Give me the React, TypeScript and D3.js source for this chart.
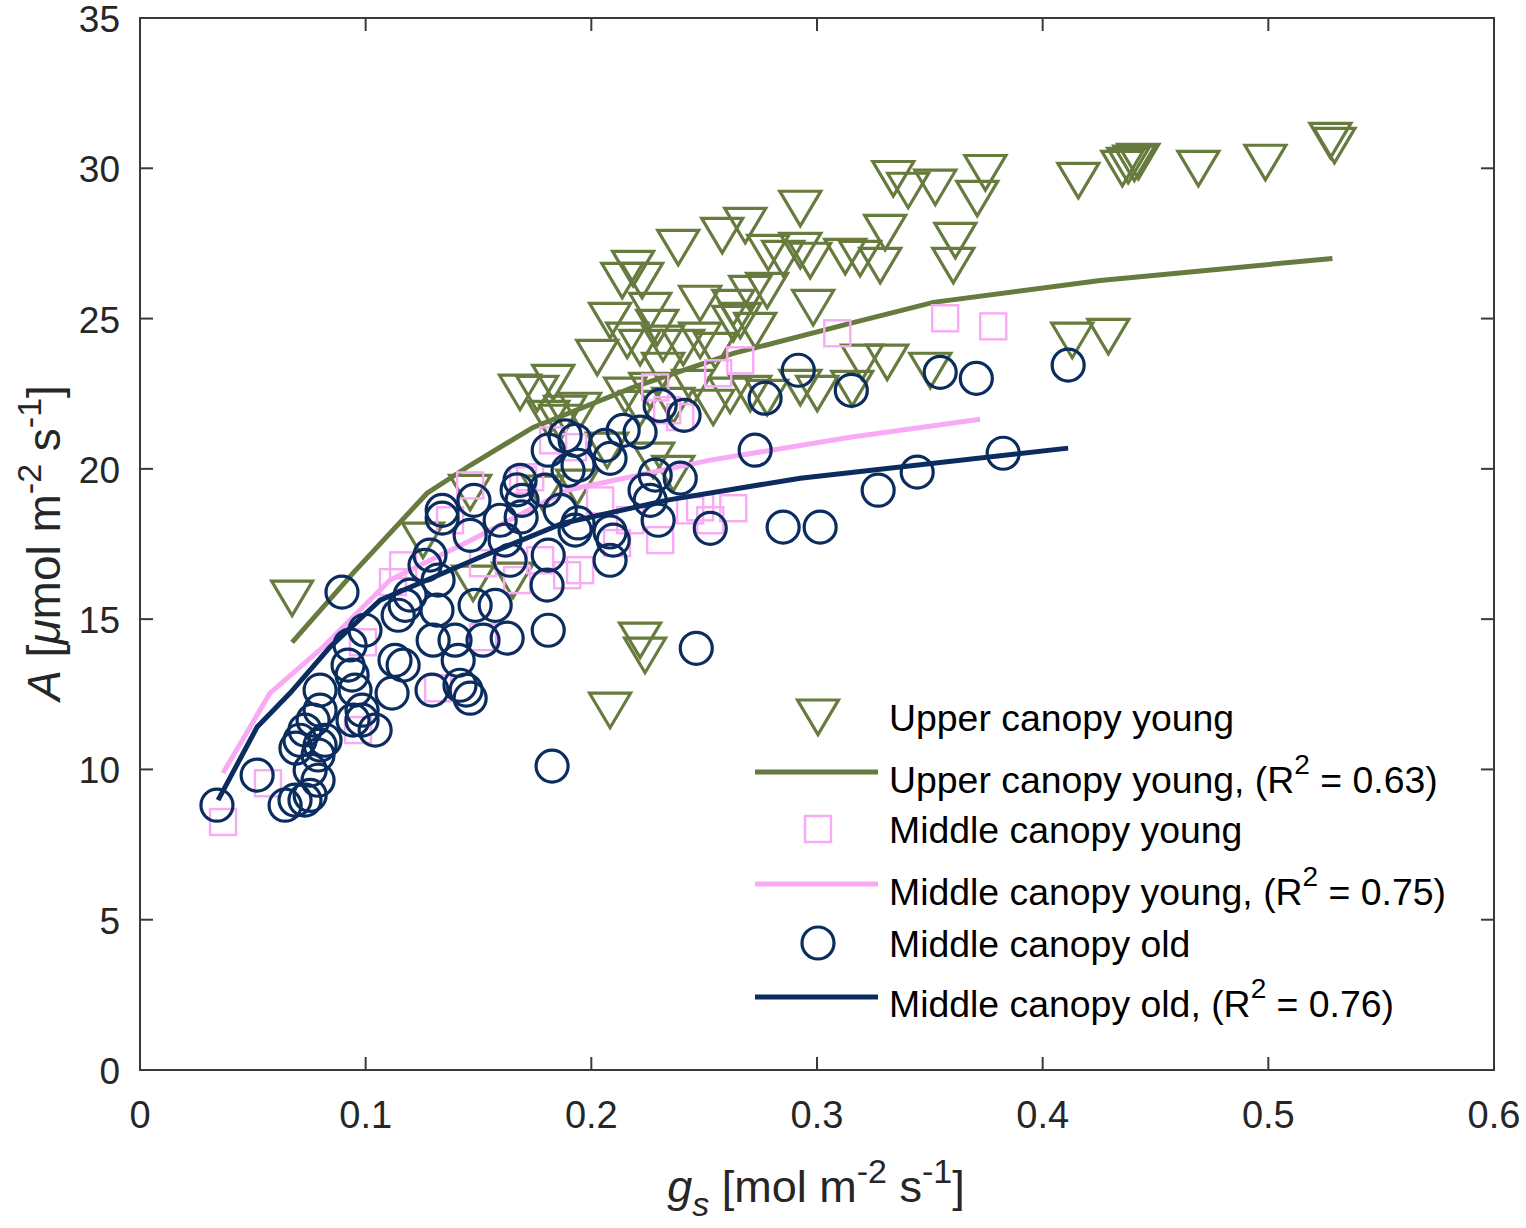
import React from 'react';
import * as d3 from 'd3';

// g_s [mol m-2 s-1], A [umol m-2 s-1]
const upperYoungGs = [
  0.5275, 0.5293, 0.4987, 0.469, 0.4353, 0.4379, 0.4406, 0.4424, 0.4158, 0.3746,
  0.371, 0.3338, 0.3404, 0.3524, 0.3302, 0.3613, 0.3604, 0.328, 0.3125, 0.3191,
  0.2926, 0.2926, 0.297, 0.2784, 0.285, 0.2682, 0.258, 0.2385, 0.2185, 0.2225,
  0.2137, 0.2482, 0.2704, 0.2629, 0.2629, 0.2779, 0.2983, 0.2261, 0.2292, 0.2216,
  0.2318, 0.2407, 0.2026, 0.2451, 0.254, 0.2704, 0.2779, 0.2926, 0.3001, 0.3156,
  0.32, 0.3311, 0.3502, 0.4131, 0.4291, 0.1684, 0.176, 0.1831, 0.1884, 0.195,
  0.1809, 0.1862, 0.207, 0.2274, 0.2363, 0.1937, 0.1786, 0.1463, 0.1254, 0.1476,
  0.1653, 0.2216, 0.2238, 0.2083, 0.0674, 0.2159, 0.2083, 0.2482, 0.2549, 0.266,
  0.2726, 0.215, 0.2261, 0.2363, 0.2216, 0.2615, 0.2318,
];
const upperYoungA = [
  30.93, 30.76, 30.2, 30.0, 30.0, 30.1, 30.17, 30.23, 29.6, 29.86,
  29.0, 29.66, 29.27, 29.37, 27.87, 27.6, 26.77, 26.77, 27.07, 27.0,
  28.67, 27.27, 26.94, 27.2, 27.0, 28.1, 27.77, 27.37, 26.67, 26.27,
  26.27, 25.51, 25.84, 25.37, 24.84, 25.94, 25.37, 25.27, 24.71, 24.04,
  24.18, 24.04, 23.71, 22.71, 22.05, 22.51, 22.38, 22.71, 22.51, 22.68,
  23.55, 23.55, 23.28, 24.28, 24.41, 22.55, 22.51, 22.88, 21.85, 21.95,
  21.68, 21.55, 20.62, 20.29, 19.85, 19.39, 19.19, 19.22, 17.63, 16.2,
  16.3, 14.3, 13.8, 11.97, 15.7, 24.28, 24.94, 24.28, 23.94, 24.94,
  24.61, 22.45, 22.61, 22.11, 22.01, 22.45, 23.28,
];

const middleYoungGs = [
  0.0368, 0.0567, 0.0966, 0.1321, 0.152, 0.0988, 0.1121, 0.152, 0.1463, 0.1698,
  0.1831, 0.1919, 0.2336, 0.2394, 0.2172, 0.2305, 0.2438, 0.195, 0.1671, 0.1773,
  0.266, 0.2562, 0.309, 0.2283, 0.2482, 0.2629, 0.2114, 0.3568, 0.3781, 0.1893,
  0.1729, 0.1166, 0.1374, 0.2039, 0.2527,
];
const middleYoungA = [
  8.25, 9.54, 11.31, 12.7, 14.4, 14.23, 16.23, 16.86, 19.45, 19.62,
  20.95, 20.72, 21.95, 21.72, 18.29, 17.63, 18.62, 16.63, 16.3, 16.96,
  23.61, 23.18, 24.51, 22.71, 18.72, 18.69, 17.53, 25.01, 24.74, 16.46,
  19.72, 16.79, 18.29, 18.95, 18.29,
];

const middleOldGs = [
  0.0341, 0.0519, 0.0643, 0.0687, 0.0731, 0.0895, 0.1826, 0.2465, 0.1809, 0.2527,
  0.2726, 0.285, 0.3014, 0.277, 0.2917, 0.3152, 0.3271, 0.3444, 0.3546, 0.3706,
  0.3825, 0.4113, 0.2411, 0.2305, 0.2283, 0.2261, 0.2296, 0.2238, 0.2083, 0.2097,
  0.2141, 0.2216, 0.2061, 0.2083, 0.1928, 0.1941, 0.1897, 0.1809, 0.1795, 0.1862,
  0.1928, 0.1809, 0.1804, 0.1684, 0.1693, 0.1596, 0.1618, 0.164, 0.1574, 0.1627,
  0.152, 0.1485, 0.1445, 0.1463, 0.1418, 0.141, 0.1396, 0.1463, 0.148, 0.1339,
  0.1339, 0.1321, 0.1316, 0.1299, 0.1285, 0.1263, 0.1294, 0.1197, 0.1175, 0.1144,
  0.113, 0.1166, 0.1117, 0.1042, 0.0984, 0.0997, 0.0931, 0.0922, 0.094, 0.0953,
  0.0944, 0.0984, 0.0798, 0.0798, 0.0767, 0.0731, 0.0709, 0.0691, 0.0798, 0.082,
  0.0789, 0.0754, 0.0789, 0.0754, 0.2394, 0.1884, 0.1941, 0.1671, 0.1689, 0.2083,
];
const middleOldA = [
  8.81, 9.81, 8.81, 8.98, 8.98, 15.9, 10.11, 14.03, 14.63, 18.02,
  20.62, 18.06, 18.06, 22.35, 23.28, 22.61, 19.29, 19.89, 23.21, 23.01,
  20.52, 23.45, 21.78, 22.11, 19.79, 18.95, 18.29, 19.29, 16.96, 17.63,
  21.28, 21.22, 20.78, 20.35, 20.95, 20.12, 19.95, 20.62, 19.29, 18.62,
  17.96, 17.13, 16.13, 19.62, 18.95, 18.29, 17.63, 16.96, 15.46, 14.37,
  14.3, 15.46, 12.64, 12.37, 12.8, 13.63, 14.3, 17.79, 18.95, 18.62,
  18.36, 16.3, 15.3, 14.3, 17.13, 16.79, 12.64, 15.8, 15.46, 15.13,
  13.63, 13.47, 12.54, 11.31, 11.97, 14.63, 14.14, 13.47, 13.14, 12.64,
  11.64, 11.64, 12.64, 11.97, 11.64, 11.31, 10.97, 10.71, 10.81, 10.97,
  10.48, 9.98, 9.64, 9.14, 19.69, 21.1, 18.2, 19.3, 18.4, 17.9,
];

// fitted curves
const upperFitGs = [0.0674, 0.0944, 0.1272, 0.1463, 0.1742, 0.2185, 0.2629, 0.3147, 0.3515, 0.4255, 0.5284];
const upperFitA = [14.23, 16.53, 19.19, 20.12, 21.38, 22.71, 23.84, 24.84, 25.54, 26.27, 27.0];
const middleYoungFitGs = [0.0368, 0.0576, 0.0811, 0.1108, 0.146, 0.1893, 0.2527, 0.3147, 0.3723];
const middleYoungFitA = [9.88, 12.54, 14.07, 16.3, 17.6, 19.29, 20.29, 21.05, 21.65];
const middleOldFitGs = [0.0346, 0.0519, 0.0665, 0.0842, 0.1064, 0.1507, 0.1875, 0.2336, 0.2926, 0.4113];
const middleOldFitA = [8.98, 11.41, 12.54, 14.07, 15.63, 17.06, 18.19, 18.96, 19.69, 20.69];

const xTicks = [0, 0.1, 0.2, 0.3, 0.4, 0.5, 0.6];
const yTicks = [0, 5, 10, 15, 20, 25, 30, 35];

const GREEN = '#677b3f';
const PINK = '#f9aaf4';
const NAVY = '#0b2c5e';
const AXIS = '#3a3a3a';
const FONT = '"Liberation Sans", Arial, Helvetica, sans-serif';

const zip = (xs: number[], ys: number[]) => xs.map((x, i) => [x, ys[i]] as [number, number]);

function Triangle({ x, y }: { x: number; y: number }) {
  return <path d={`M${x - 20.5},${y - 17}L${x + 20.5},${y - 17}L${x},${y + 17.5}Z`} fill="none" stroke={GREEN} strokeWidth={3.2} />;
}
function Square({ x, y }: { x: number; y: number }) {
  return <rect x={x - 13} y={y - 13} width={26} height={26} fill="none" stroke={PINK} strokeWidth={2.4} />;
}
function Circle({ x, y }: { x: number; y: number }) {
  return <circle cx={x} cy={y} r={16} fill="none" stroke={NAVY} strokeWidth={3.2} />;
}

export default function App() {
  const width = 1526;
  const height = 1228;
  const left = 140, right = 1494, top = 18, bottom = 1070;

  const x = d3.scaleLinear().domain([0, 0.6]).range([left, right]);
  const y = d3.scaleLinear().domain([0, 35]).range([bottom, top]);
  const line = d3.line<[number, number]>().x(d => x(d[0])).y(d => y(d[1])).curve(d3.curveLinear);

  const upperPts = zip(upperYoungGs, upperYoungA);
  const youngPts = zip(middleYoungGs, middleYoungA);
  const oldPts = zip(middleOldGs, middleOldA);

  const tickLen = 13;
  const legX = 818;
  const legText = 889;
  const fs = 37.4;

  return (
    <svg width={width} height={height} style={{ position: 'absolute', left: 0, top: 0, background: '#fff' }} fontFamily={FONT}>
      <rect x={0} y={0} width={width} height={height} fill="#fff" />

      {/* data */}
      <g>
        {upperPts.map((d, i) => <Triangle key={`t${i}`} x={x(d[0])} y={y(d[1])} />)}
      </g>
      <path d={line(zip(upperFitGs, upperFitA)) || ''} fill="none" stroke={GREEN} strokeWidth={5} />
      <g>
        {youngPts.map((d, i) => <Square key={`s${i}`} x={x(d[0])} y={y(d[1])} />)}
      </g>
      <path d={line(zip(middleYoungFitGs, middleYoungFitA)) || ''} fill="none" stroke={PINK} strokeWidth={5} />
      <g>
        {oldPts.map((d, i) => <Circle key={`c${i}`} x={x(d[0])} y={y(d[1])} />)}
      </g>
      <path d={line(zip(middleOldFitGs, middleOldFitA)) || ''} fill="none" stroke={NAVY} strokeWidth={5} />

      {/* axes box */}
      <rect x={left} y={top} width={right - left} height={bottom - top} fill="none" stroke={AXIS} strokeWidth={2} />
      {xTicks.map(t => (
        <g key={`xt${t}`}>
          <line x1={x(t)} x2={x(t)} y1={bottom} y2={bottom - tickLen} stroke={AXIS} strokeWidth={2} />
          <line x1={x(t)} x2={x(t)} y1={top} y2={top + tickLen} stroke={AXIS} strokeWidth={2} />
          <text x={x(t)} y={bottom + 58} textAnchor="middle" fontSize={38} fill="#262626">{t === 0 ? '0' : t.toString()}</text>
        </g>
      ))}
      {yTicks.map(t => (
        <g key={`yt${t}`}>
          <line x1={left} x2={left + tickLen} y1={y(t)} y2={y(t)} stroke={AXIS} strokeWidth={2} />
          <line x1={right} x2={right - tickLen} y1={y(t)} y2={y(t)} stroke={AXIS} strokeWidth={2} />
          <text x={left - 20} y={y(t) + 14} textAnchor="end" fontSize={37} fill="#262626">{t}</text>
        </g>
      ))}

      {/* axis labels */}
      <text x={816} y={1202} textAnchor="middle" fontSize={45} fill="#262626">
        <tspan fontStyle="italic">g</tspan>
        <tspan fontSize={34} fontStyle="italic" dy={14}>s</tspan>
        <tspan dy={-14}> [mol m</tspan>
        <tspan fontSize={34} dy={-19}>-2</tspan>
        <tspan dy={19}> s</tspan>
        <tspan fontSize={34} dy={-19}>-1</tspan>
        <tspan dy={19}>]</tspan>
      </text>
      <text transform="translate(60,543) rotate(-90)" textAnchor="middle" fontSize={46} fill="#262626">
        <tspan fontStyle="italic">A</tspan>
        <tspan> [</tspan>
        <tspan fontStyle="italic">μ</tspan>
        <tspan>mol m</tspan>
        <tspan fontSize={34} dy={-19}>-2</tspan>
        <tspan dy={19}> s</tspan>
        <tspan fontSize={34} dy={-19}>-1</tspan>
        <tspan dy={19}>]</tspan>
      </text>

      {/* legend */}
      <g fontSize={fs} fill="#000">
        <Triangle x={legX} y={717} />
        <text x={legText} y={731}>Upper canopy young</text>

        <line x1={755} x2={878} y1={772} y2={772} stroke={GREEN} strokeWidth={5} />
        <text x={legText} y={793}>
          Upper canopy young, (R<tspan fontSize={28} dy={-19}>2</tspan><tspan dy={19}> = 0.63)</tspan>
        </text>

        <Square x={legX} y={829} />
        <text x={legText} y={843}>Middle canopy young</text>

        <line x1={755} x2={878} y1={884} y2={884} stroke={PINK} strokeWidth={5} />
        <text x={legText} y={905}>
          Middle canopy young, (R<tspan fontSize={28} dy={-19}>2</tspan><tspan dy={19}> = 0.75)</tspan>
        </text>

        <Circle x={legX} y={943} />
        <text x={legText} y={957}>Middle canopy old</text>

        <line x1={755} x2={878} y1={997} y2={997} stroke={NAVY} strokeWidth={5} />
        <text x={legText} y={1017}>
          Middle canopy old, (R<tspan fontSize={28} dy={-19}>2</tspan><tspan dy={19}> = 0.76)</tspan>
        </text>
      </g>
    </svg>
  );
}
